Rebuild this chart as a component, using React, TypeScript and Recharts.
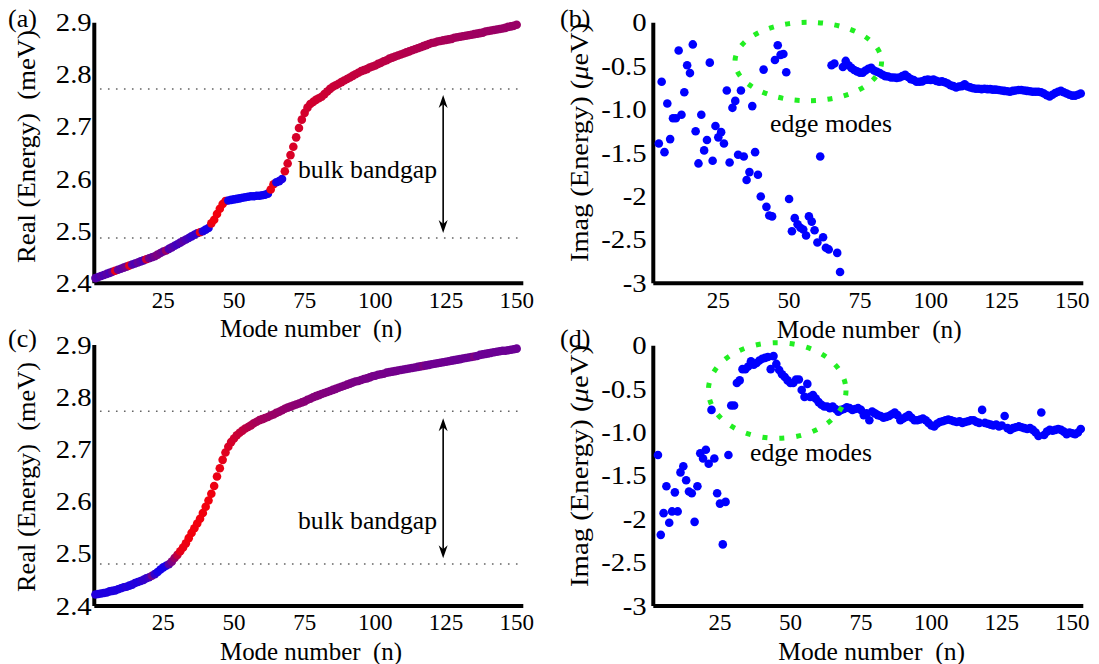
import React from 'react';
import { ScatterChart, Scatter, XAxis, YAxis, ReferenceLine } from 'recharts';

const FONT = '"Liberation Serif", "Times New Roman", Times, serif';

// ---------- ticks ----------
const modeTicks = [25, 50, 75, 100, 125, 150];
const realTicks = [2.4, 2.5, 2.6, 2.7, 2.8, 2.9];
const realTickLabels = ['2.4', '2.5', '2.6', '2.7', '2.8', '2.9'];
const imagTicks = [-3, -2.5, -2, -1.5, -1, -0.5, 0];
const imagTickLabels = ['-3', '-2.5', '-2', '-1.5', '-1.0', '-0.5', '0'];

// ---------- panel (a): Real(Energy), modes 1..150 ----------
const startA = 1;
const realA = [
  2.410, 2.412, 2.414, 2.416, 2.418, 2.420, 2.422, 2.424, 2.426, 2.428,
  2.430, 2.432, 2.434, 2.436, 2.438, 2.440, 2.442, 2.444, 2.446, 2.448,
  2.450, 2.452, 2.455, 2.458, 2.461, 2.463, 2.466, 2.469, 2.472, 2.475,
  2.478, 2.481, 2.484, 2.487, 2.490, 2.493, 2.496, 2.498, 2.500, 2.503,
  2.506, 2.515, 2.522, 2.533, 2.543, 2.552, 2.558, 2.559, 2.560, 2.561,
  2.562, 2.563, 2.564, 2.565, 2.566, 2.567, 2.567, 2.568, 2.568, 2.569,
  2.570, 2.572, 2.580, 2.590, 2.594, 2.596, 2.600, 2.615, 2.630, 2.646,
  2.662, 2.680, 2.698, 2.714, 2.727, 2.737, 2.744, 2.748, 2.752, 2.755,
  2.758, 2.763, 2.768, 2.773, 2.777, 2.780, 2.783, 2.786, 2.789, 2.792,
  2.795, 2.798, 2.801, 2.804, 2.807, 2.809, 2.811, 2.814, 2.816, 2.818,
  2.821, 2.823, 2.826, 2.828, 2.831, 2.833, 2.835, 2.837, 2.839, 2.841,
  2.843, 2.845, 2.847, 2.849, 2.851, 2.853, 2.855, 2.857, 2.859, 2.861,
  2.862, 2.864, 2.865, 2.866, 2.867, 2.868, 2.869, 2.871, 2.872, 2.873,
  2.874, 2.875, 2.876, 2.877, 2.878, 2.879, 2.880, 2.881, 2.883, 2.884,
  2.885, 2.886, 2.887, 2.888, 2.889, 2.890, 2.892, 2.893, 2.894, 2.896,
];
// fraction of "red" weight of each mode (0 = blue, 1 = red)
const redA = [
  0.35, 0.30, 0.35, 0.30, 0.35, 0.30, 0.40, 0.90, 0.40, 0.35,
  0.40, 0.45, 0.90, 0.35, 0.30, 0.40, 0.35, 0.30, 0.80, 0.45,
  0.40, 0.45, 0.50, 0.45, 0.40, 0.60, 0.30, 0.35, 0.30, 0.25,
  0.30, 0.35, 0.30, 0.25, 0.20, 0.20, 0.20, 0.90, 0.15, 0.10,
  0.10, 0.92, 0.95, 0.95, 0.95, 0.95, 0.92, 0.08, 0.05, 0.05,
  0.05, 0.05, 0.05, 0.05, 0.05, 0.05, 0.05, 0.05, 0.05, 0.05,
  0.05, 0.05, 0.92, 0.92, 0.10, 0.08, 0.10, 0.88, 0.86, 0.85,
  0.85, 0.84, 0.84, 0.83, 0.83, 0.82, 0.82, 0.82, 0.81, 0.81,
  0.80, 0.80, 0.80, 0.79, 0.79, 0.79, 0.78, 0.78, 0.78, 0.77,
  0.77, 0.77, 0.76, 0.76, 0.76, 0.75, 0.75, 0.75, 0.74, 0.74,
  0.74, 0.73, 0.73, 0.73, 0.72, 0.72, 0.72, 0.71, 0.71, 0.71,
  0.70, 0.70, 0.70, 0.69, 0.69, 0.69, 0.68, 0.68, 0.68, 0.67,
  0.67, 0.67, 0.66, 0.66, 0.66, 0.65, 0.65, 0.65, 0.64, 0.64,
  0.64, 0.63, 0.63, 0.63, 0.62, 0.62, 0.62, 0.62, 0.61, 0.61,
  0.61, 0.61, 0.60, 0.60, 0.60, 0.60, 0.60, 0.60, 0.60, 0.60,
];
const gapA = [2.4869, 2.7728];
const arrowA = { n: 124, low: 2.4965, high: 2.7613 };

// ---------- panel (b): Imag(Energy), modes 4..153 ----------
const startB = 4;
const imagB = [
  -1.39, -0.68, -1.49, -0.93, -1.34, -1.10, -1.10, -0.32, -1.06, -0.80,
  -0.49, -0.58, -0.25, -1.25, -1.62, -1.06, -1.47, -1.35, -0.46, -1.59,
  -1.19, -1.32, -1.26, -1.39, -0.78, -1.61, -0.98, -0.90, -1.52, -0.78,
  -1.54, -1.81, -1.72, -0.96, -1.49, -1.75, -2.00, -0.54, -2.12, -2.22,
  -2.23, -0.43, -0.26, -0.37, -0.36, -0.57, -2.03, -2.40, -2.25, -2.32,
  -2.36, -2.38, -2.45, -2.23, -2.29, -2.39, -2.53, -1.54, -2.47, -2.59,
  -2.61, -0.49, -0.47, -2.65, -2.87,
  -0.51, -0.44, -0.49, -0.52, -0.545, -0.56, -0.575, -0.575, -0.55, -0.53,
  -0.52, -0.55, -0.565, -0.58, -0.60, -0.615, -0.62, -0.63, -0.63, -0.635,
  -0.63, -0.615, -0.60, -0.625, -0.65, -0.66, -0.68, -0.68, -0.675, -0.66,
  -0.655, -0.66, -0.655, -0.67, -0.68, -0.675, -0.685, -0.70, -0.72, -0.73,
  -0.745, -0.735, -0.73, -0.71, -0.735, -0.745, -0.755, -0.76, -0.76, -0.765,
  -0.76, -0.765, -0.765, -0.77, -0.77, -0.775, -0.78, -0.785, -0.79, -0.795,
  -0.785, -0.78, -0.775, -0.775, -0.78, -0.785, -0.79, -0.795, -0.795, -0.795,
  -0.80, -0.815, -0.835, -0.85, -0.83, -0.81, -0.795, -0.785, -0.80, -0.815,
  -0.83, -0.84, -0.84, -0.83, -0.815,
];

// ---------- panel (c): Real(Energy), modes 1..150 ----------
const startC = 1;
const realC = [
  2.422, 2.423, 2.424, 2.425, 2.426, 2.428, 2.429, 2.430, 2.432, 2.434,
  2.436, 2.437, 2.439, 2.441, 2.444, 2.446, 2.448, 2.450, 2.453, 2.455,
  2.458, 2.461, 2.465, 2.470, 2.474, 2.477, 2.480, 2.485, 2.492, 2.498,
  2.505, 2.512, 2.520, 2.530, 2.540, 2.549, 2.558, 2.567, 2.578, 2.590,
  2.602, 2.615, 2.630, 2.648, 2.664, 2.680, 2.694, 2.705, 2.714, 2.721,
  2.727, 2.732, 2.736, 2.740, 2.743, 2.746, 2.750, 2.753, 2.756, 2.758,
  2.760, 2.762, 2.765, 2.767, 2.770, 2.772, 2.775, 2.778, 2.780, 2.782,
  2.784, 2.786, 2.788, 2.790, 2.792, 2.795, 2.797, 2.800, 2.802, 2.804,
  2.806, 2.808, 2.810, 2.812, 2.814, 2.816, 2.818, 2.820, 2.822, 2.824,
  2.826, 2.828, 2.830, 2.831, 2.833, 2.835, 2.836, 2.838, 2.840, 2.841,
  2.843, 2.844, 2.845, 2.847, 2.848, 2.849, 2.850, 2.851, 2.852, 2.853,
  2.854, 2.855, 2.856, 2.857, 2.858, 2.859, 2.860, 2.861, 2.862, 2.863,
  2.864, 2.865, 2.866, 2.867, 2.868, 2.869, 2.870, 2.871, 2.872, 2.873,
  2.874, 2.875, 2.876, 2.877, 2.878, 2.879, 2.881, 2.882, 2.883, 2.884,
  2.885, 2.886, 2.887, 2.888, 2.889, 2.889, 2.890, 2.891, 2.892, 2.893,
];
const redC = [
  0.15, 0.12, 0.12, 0.12, 0.12, 0.12, 0.12, 0.12, 0.12, 0.12,
  0.12, 0.15, 0.12, 0.12, 0.15, 0.12, 0.15, 0.20, 0.20, 0.25,
  0.45, 0.20, 0.10, 0.08, 0.08, 0.10, 0.35, 0.50, 0.60, 0.75,
  0.90, 0.92, 0.93, 0.95, 0.95, 0.95, 0.95, 0.95, 0.95, 0.95,
  0.95, 0.94, 0.93, 0.92, 0.92, 0.90, 0.88, 0.86, 0.84, 0.82,
  0.80, 0.78, 0.76, 0.74, 0.72, 0.70, 0.68, 0.66, 0.65, 0.64,
  0.63, 0.62, 0.61, 0.60, 0.60, 0.59, 0.58, 0.58, 0.57, 0.56,
  0.56, 0.55, 0.55, 0.54, 0.54, 0.53, 0.53, 0.52, 0.52, 0.52,
  0.51, 0.51, 0.51, 0.50, 0.50, 0.50, 0.50, 0.49, 0.49, 0.49,
  0.49, 0.48, 0.48, 0.48, 0.48, 0.47, 0.47, 0.47, 0.47, 0.46,
  0.46, 0.46, 0.46, 0.46, 0.45, 0.45, 0.45, 0.45, 0.45, 0.44,
  0.44, 0.44, 0.44, 0.44, 0.44, 0.44, 0.50, 0.44, 0.43, 0.43,
  0.43, 0.43, 0.43, 0.43, 0.43, 0.43, 0.43, 0.42, 0.42, 0.42,
  0.42, 0.42, 0.42, 0.42, 0.50, 0.42, 0.42, 0.42, 0.42, 0.42,
  0.42, 0.42, 0.42, 0.42, 0.42, 0.42, 0.42, 0.42, 0.42, 0.42,
];
const gapC = [2.4805, 2.773];
const arrowC = { n: 124, low: 2.4914, high: 2.7596 };

// ---------- panel (d): Imag(Energy), modes 3..153 ----------
const startD = 3;
const imagD = [
  -1.26, -2.18, -1.93, -1.62, -2.04, -1.91, -1.69, -1.91, -1.46, -1.39,
  -1.55, -1.68, -1.70, -2.03, -1.62, -1.24, -1.30, -1.20, -1.36, -0.74,
  -1.30, -1.70, -1.82, -2.29, -1.80, -1.26, -0.69, -0.69, -0.43, -0.40,
  -0.27, -0.27, -0.24, -0.18, -0.22, -0.20, -0.17, -0.15, -0.14, -0.13,
  -0.27, -0.12, -0.21, -0.28, -0.33, -0.36, -0.40, -0.43, -0.43, -0.39,
  -0.39, -0.51, -0.59, -0.44, -0.59, -0.57, -0.61, -0.65, -0.68, -0.70,
  -0.70, -0.72, -0.70, -0.73, -0.76, -0.74, -0.73, -0.71, -0.72, -0.74,
  -0.73, -0.72, -0.74, -0.80, -0.78, -0.86, -0.76, -0.78, -0.80, -0.81,
  -0.83, -0.82, -0.81, -0.79, -0.77, -0.80, -0.86, -0.84, -0.82, -0.80,
  -0.83, -0.86, -0.86, -0.85, -0.84, -0.86, -0.89, -0.92, -0.93, -0.90,
  -0.88, -0.87, -0.86, -0.85, -0.86, -0.87, -0.88, -0.87, -0.89, -0.88,
  -0.87, -0.86, -0.86, -0.88, -0.89, -0.74, -0.89, -0.90, -0.91, -0.92,
  -0.91, -0.93, -0.92, -0.81, -0.95, -0.97, -0.95, -0.94, -0.93, -0.94,
  -0.95, -0.96, -0.95, -0.97, -1.00, -1.04, -0.77, -1.03, -0.99, -0.97,
  -0.98, -0.97, -0.96, -0.97, -0.99, -1.02, -1.00, -1.01, -1.02, -1.00,
  -0.96,
];

// ---------- helpers ----------
const mixColor = (r: number) =>
  `rgb(${Math.round(255 * r)},0,${Math.round(255 * (1 - r))})`;

const buildRows = (start: number, values: number[], red?: number[]) =>
  values.map((v, i) => ({
    n: start + i,
    v,
    color: red ? mixColor(red[i]) : '#0000ff',
  }));

const dataA = buildRows(startA, realA, redA);
const dataB = buildRows(startB, imagB);
const dataC = buildRows(startC, realC, redC);
const dataD = buildRows(startD, imagD);

const DotShape = (props: any) => {
  const { cx, cy } = props;
  if (cx == null || cy == null) return null;
  const fill = props.payload?.color ?? props.color ?? props.fill;
  return <circle cx={cx} cy={cy} r={4.3} fill={fill} stroke="none" />;
};

const makeYTick = (values: number[], labels: string[]) => (props: any) => {
  const { x, y, payload } = props;
  let idx = -1;
  values.forEach((t, i) => {
    if (Math.abs(t - payload.value) < 1e-6) idx = i;
  });
  const label = idx >= 0 ? labels[idx] : String(payload.value);
  return (
    <g transform={`translate(${x},${y})`}>
      <text
        transform="scale(1.15,1)"
        textAnchor="end"
        dy="0.34em"
        fontSize={25}
        fontFamily={FONT}
        fill="#000"
      >
        {label}
      </text>
    </g>
  );
};

const XTick = (props: any) => {
  const { x, y, payload } = props;
  return (
    <text x={x} y={y} dy="0.71em" textAnchor="middle" fontSize={23} fontFamily={FONT} fill="#000">
      {payload.value}
    </text>
  );
};

const ArrowShape = (props: any) => {
  const { x1, y1, x2, y2 } = props;
  if ([x1, y1, x2, y2].some((q) => q == null || Number.isNaN(q))) return null;
  const top = Math.min(y1, y2);
  const bot = Math.max(y1, y2);
  const x = x1;
  return (
    <g>
      <line x1={x} y1={top + 4} x2={x} y2={bot - 4} stroke="#000" strokeWidth={1.6} />
      <path d={`M${x},${top} L${x - 4.5},${top + 13} L${x},${top + 9} L${x + 4.5},${top + 13} Z`} fill="#000" />
      <path d={`M${x},${bot} L${x - 4.5},${bot - 13} L${x},${bot - 9} L${x + 4.5},${bot - 13} Z`} fill="#000" />
    </g>
  );
};

const axisLineStyle = { stroke: '#000', strokeWidth: 4 };

type PanelProps = {
  left: number;
  top: number;
  width: number;
  height: number;
  plot: { top: number; left: number; right: number; bottom: number };
  xDomain: [number, number];
  yDomain: [number, number];
  yTicks: number[];
  yLabels: string[];
  yTickMargin: number;
  data: any[];
  gap?: number[];
  arrow?: { n: number; low: number; high: number };
};

// axes reserve 1px each so that they are rendered; margins compensate
const AXIS_W = 1;

const Panel = (p: PanelProps) => (
  <div style={{ position: 'absolute', left: p.left, top: p.top, width: p.width, height: p.height }}>
    <ScatterChart
      width={p.width}
      height={p.height}
      margin={{
        top: p.plot.top,
        right: p.plot.right,
        left: p.plot.left - AXIS_W,
        bottom: p.plot.bottom - AXIS_W,
      }}
    >
      <XAxis
        type="number"
        dataKey="n"
        domain={p.xDomain}
        ticks={modeTicks}
        interval={0}
        height={AXIS_W}
        tickLine={false}
        tickSize={0}
        tickMargin={8}
        axisLine={axisLineStyle}
        tick={XTick}
      />
      <YAxis
        type="number"
        dataKey="v"
        domain={p.yDomain}
        ticks={p.yTicks}
        interval={0}
        width={AXIS_W}
        tickLine={false}
        tickSize={0}
        tickMargin={p.yTickMargin}
        axisLine={axisLineStyle}
        tick={makeYTick(p.yTicks, p.yLabels)}
      />
      {p.gap &&
        p.gap.map((g) => (
          <ReferenceLine
            key={g}
            segment={[
              { x: 2.6, y: g },
              { x: 151.2, y: g },
            ]}
            stroke="#666"
            strokeWidth={1.6}
            strokeDasharray="1.6 6.4"
          />
        ))}
      {p.arrow && (
        <ReferenceLine
          segment={[
            { x: p.arrow.n, y: p.arrow.low },
            { x: p.arrow.n, y: p.arrow.high },
          ]}
          shape={ArrowShape}
        />
      )}
      <Scatter data={p.data} isAnimationActive={false} shape={DotShape} />
    </ScatterChart>
  </div>
);

const T = (props: any) => (
  <text fontFamily={FONT} fill="#000" style={{ whiteSpace: 'pre' }} {...props} />
);

const Overlay = () => (
  <svg
    width={1099}
    height={664}
    style={{ position: 'absolute', left: 0, top: 0, pointerEvents: 'none' }}
  >
    {/* panel letters */}
    <T x={8} y={27.3} fontSize={26}>(a)</T>
    <T x={560} y={27.3} fontSize={26}>(b)</T>
    <T x={8} y={347} fontSize={26}>(c)</T>
    <T x={560} y={347} fontSize={26}>(d)</T>

    {/* y titles */}
    <T transform="translate(34.5,146.5) rotate(-90)" textAnchor="middle" fontSize={25} textLength={233} lengthAdjust="spacingAndGlyphs">
      Real (Energy)  (meV)
    </T>
    <T transform="translate(588,142.5) rotate(-90)" textAnchor="middle" fontSize={25} textLength={239} lengthAdjust="spacingAndGlyphs">
      Imag (Energy) (<tspan fontStyle="italic">μ</tspan>eV)
    </T>
    <T transform="translate(34.5,477) rotate(-90)" textAnchor="middle" fontSize={25} textLength={230} lengthAdjust="spacingAndGlyphs">
      Real (Energy)  (meV)
    </T>
    <T transform="translate(588,466) rotate(-90)" textAnchor="middle" fontSize={25} textLength={242} lengthAdjust="spacingAndGlyphs">
      Imag (Energy) (<tspan fontStyle="italic">μ</tspan>eV)
    </T>

    {/* x titles */}
    <T x={220} y={337} fontSize={25} textLength={182} lengthAdjust="spacingAndGlyphs">Mode number  (n)</T>
    <T x={776.7} y={338} fontSize={25} textLength={185} lengthAdjust="spacingAndGlyphs">Mode number  (n)</T>
    <T x={220} y={660} fontSize={25} textLength={182} lengthAdjust="spacingAndGlyphs">Mode number  (n)</T>
    <T x={778.3} y={660} fontSize={25} textLength={186.7} lengthAdjust="spacingAndGlyphs">Mode number  (n)</T>

    {/* annotations */}
    <T x={298} y={177.5} fontSize={25} textLength={139} lengthAdjust="spacingAndGlyphs">bulk bandgap</T>
    <T x={298} y={528.5} fontSize={25} textLength={139} lengthAdjust="spacingAndGlyphs">bulk bandgap</T>
    <T x={770} y={132} fontSize={25} textLength={122} lengthAdjust="spacingAndGlyphs">edge modes</T>
    <T x={750} y={460.5} fontSize={25} textLength={122} lengthAdjust="spacingAndGlyphs">edge modes</T>

    {/* green dotted ellipses marking edge modes */}
    <ellipse cx={808.3} cy={61.5} rx={73.3} ry={39.2} fill="none" stroke="#22ee22" strokeWidth={5} strokeDasharray="5 11.5" />
    <ellipse cx={777.2} cy={390.5} rx={68.8} ry={47.8} fill="none" stroke="#22ee22" strokeWidth={5} strokeDasharray="5 12" />
  </svg>
);

export default function App() {
  return (
    <div style={{ position: 'absolute', left: 0, top: 0, width: 1099, height: 664, background: '#fff', overflow: 'hidden' }}>
      <Panel
        left={0}
        top={0}
        width={549}
        height={330}
        plot={{ top: 22.7, left: 94.3, right: 25.7, bottom: 46.7 }}
        xDomain={[0.6, 152.35]}
        yDomain={[2.4, 2.9]}
        yTicks={realTicks}
        yLabels={realTickLabels}
        yTickMargin={2.6}
        data={dataA}
        gap={gapA}
        arrow={arrowA}
      />
      <Panel
        left={549}
        top={0}
        width={550}
        height={330}
        plot={{ top: 22.7, left: 104.3, right: 15.7, bottom: 46.7 }}
        xDomain={[2.05, 153.9]}
        yDomain={[-3, 0]}
        yTicks={imagTicks}
        yLabels={imagTickLabels}
        yTickMargin={6.6}
        data={dataB}
      />
      <Panel
        left={0}
        top={323}
        width={549}
        height={341}
        plot={{ top: 22, left: 94.3, right: 25.7, bottom: 58 }}
        xDomain={[0.6, 152.35]}
        yDomain={[2.4, 2.9]}
        yTicks={realTicks}
        yLabels={realTickLabels}
        yTickMargin={2.6}
        data={dataC}
        gap={gapC}
        arrow={arrowC}
      />
      <Panel
        left={549}
        top={323}
        width={550}
        height={341}
        plot={{ top: 22.7, left: 104.3, right: 15.7, bottom: 58 }}
        xDomain={[1.35, 153.9]}
        yDomain={[-3, 0]}
        yTicks={imagTicks}
        yLabels={imagTickLabels}
        yTickMargin={6.6}
        data={dataD}
      />
      <Overlay />
    </div>
  );
}
